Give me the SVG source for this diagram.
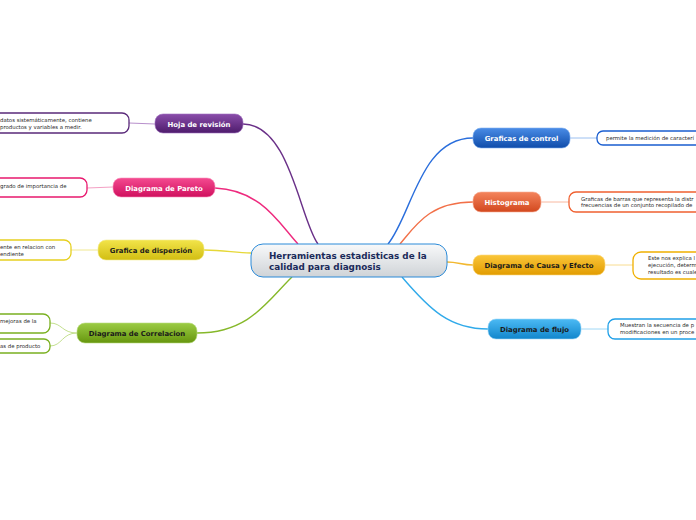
<svg xmlns="http://www.w3.org/2000/svg" width="696" height="520" viewBox="0 0 696 520">
<style>
.t{font-family:"DejaVu Sans",Verdana,sans-serif;font-weight:bold;font-size:6.9px;text-anchor:middle}
.w{fill:#fff}
.d{fill:#1a1a1a}
.leaf{fill:#fff;stroke-width:1.3}
.lt{font-family:"DejaVu Sans",Verdana,sans-serif;font-size:5.4px;fill:#2a2a2a}
.c{fill:none;stroke-width:1.4}
.cl{fill:none;stroke-width:1}
</style>
<defs>
<linearGradient id="gC" x1="0" y1="0" x2="0" y2="1"><stop offset="0" stop-color="#f8f9fa"/><stop offset="1" stop-color="#cfd3d7"/></linearGradient>
<linearGradient id="gPu" x1="0" y1="0" x2="0" y2="1"><stop offset="0" stop-color="#8a4daa"/><stop offset="1" stop-color="#4e1c6c"/></linearGradient>
<linearGradient id="gPi" x1="0" y1="0" x2="0" y2="1"><stop offset="0" stop-color="#f44a90"/><stop offset="1" stop-color="#d0105e"/></linearGradient>
<linearGradient id="gY" x1="0" y1="0" x2="0" y2="1"><stop offset="0" stop-color="#f2e44a"/><stop offset="1" stop-color="#d2be12"/></linearGradient>
<linearGradient id="gG" x1="0" y1="0" x2="0" y2="1"><stop offset="0" stop-color="#9ccc44"/><stop offset="1" stop-color="#66960e"/></linearGradient>
<linearGradient id="gB" x1="0" y1="0" x2="0" y2="1"><stop offset="0" stop-color="#4a8ce6"/><stop offset="1" stop-color="#0f4caa"/></linearGradient>
<linearGradient id="gO" x1="0" y1="0" x2="0" y2="1"><stop offset="0" stop-color="#f4845c"/><stop offset="1" stop-color="#d2481e"/></linearGradient>
<linearGradient id="gA" x1="0" y1="0" x2="0" y2="1"><stop offset="0" stop-color="#fac63a"/><stop offset="1" stop-color="#e29c00"/></linearGradient>
<linearGradient id="gL" x1="0" y1="0" x2="0" y2="1"><stop offset="0" stop-color="#4cbaf4"/><stop offset="1" stop-color="#1186cc"/></linearGradient>
</defs>
<rect width="696" height="520" fill="#fff"/>
<g id="connectors">
<path class="c" stroke="#6a3088" d="M243,124 C290,124 300,220 318,244"/>
<path class="c" stroke="#ee2a7e" d="M215,188 C262,190 280,225 298,244"/>
<path class="c" stroke="#e6d838" d="M204,250 C225,250 235,253 251,253"/>
<path class="c" stroke="#86b82a" d="M197,333 C250,333 268,300 292,277"/>
<path class="c" stroke="#2a6edc" d="M473,138 C420,138 412,215 388,244"/>
<path class="c" stroke="#f27048" d="M473,202 C430,202 416,225 400,244"/>
<path class="c" stroke="#f2b830" d="M447,262 C458,262 462,265 473,265"/>
<path class="c" stroke="#30aaea" d="M402,277 C430,310 450,329 488,329"/>
<path class="cl" stroke="#b890cc" d="M129,123 L155,124"/>
<path class="cl" stroke="#f4a0c4" d="M87,188 L113,187"/>
<path class="cl" stroke="#f0e890" d="M71,250 L98,250"/>
<path class="cl" stroke="#c4e090" d="M77,333 C62,333 62,323 50,323"/>
<path class="cl" stroke="#c4e090" d="M77,333 C62,333 62,346 50,346"/>
<path class="cl" stroke="#9cc0f0" d="M570,138 L597,138"/>
<path class="cl" stroke="#f8b8a0" d="M541,202 L569,202"/>
<path class="cl" stroke="#f8dc90" d="M605,265 L633,265"/>
<path class="cl" stroke="#a0d8f6" d="M581,329 L608,329"/>
</g>
<g id="central">
<rect x="251" y="244" width="196" height="33" rx="12" fill="url(#gC)" stroke="#2a8ad8" stroke-width="1"/>
<text x="269" y="259" font-family="DejaVu Sans,Verdana,sans-serif" font-weight="bold" font-size="8.8" fill="#1a2a5a">Herramientas estadisticas de la</text>
<text x="269" y="270" font-family="DejaVu Sans,Verdana,sans-serif" font-weight="bold" font-size="8.8" fill="#1a2a5a">calidad para diagnosis</text>
</g>
<g id="hoja">
<rect x="155" y="114" width="88" height="19" rx="8" fill="url(#gPu)" stroke="#a070c0" stroke-width="0.6"/>
<text class="t w" x="199" y="126.5">Hoja de revisión</text>
</g>
<g id="hoja-leaf">
<rect class="leaf" x="-12" y="113" width="141" height="20" rx="7" stroke="#5a2a7a"/>
<text class="lt" x="0" y="122">datos sistemáticamente, contiene</text>
<text class="lt" x="0" y="129">productos y variables a medir.</text>
</g>
<g id="pareto">
<rect x="113" y="178" width="102" height="19" rx="8" fill="url(#gPi)" stroke="#f890bc" stroke-width="0.6"/>
<text class="t w" x="164" y="190.5">Diagrama de Pareto</text>
</g>
<g id="pareto-leaf">
<rect class="leaf" x="-12" y="178" width="99" height="19" rx="7" stroke="#e8186e"/>
<text class="lt" x="0" y="188">grado de importancia de</text>
</g>
<g id="dispersion">
<rect x="98" y="240" width="106" height="20" rx="8" fill="url(#gY)" stroke="#f4ec90" stroke-width="0.6"/>
<text class="t d" x="151" y="252.5">Grafica de dispersión</text>
</g>
<g id="dispersion-leaf">
<rect class="leaf" x="-12" y="240" width="83" height="20" rx="7" stroke="#e6d020"/>
<text class="lt" x="0" y="248.5">ente en relacion con</text>
<text class="lt" x="0" y="256">endiente</text>
</g>
<g id="correlacion">
<rect x="77" y="323" width="120" height="20" rx="8" fill="url(#gG)" stroke="#b8dc80" stroke-width="0.6"/>
<text class="t d" x="137" y="335.5">Diagrama de Correlacion</text>
</g>
<g id="correlacion-leaf1">
<rect class="leaf" x="-12" y="314" width="62" height="19" rx="7" stroke="#7ab020"/>
<text class="lt" x="0" y="322.5">mejoras de la</text>
</g>
<g id="correlacion-leaf2">
<rect class="leaf" x="-12" y="339" width="62" height="14" rx="6" stroke="#7ab020"/>
<text class="lt" x="0" y="348">as de producto</text>
</g>
<g id="control">
<rect x="473" y="128" width="97" height="20" rx="8" fill="url(#gB)" stroke="#80b0f0" stroke-width="0.6"/>
<text class="t w" x="521.5" y="140.5">Graficas de control</text>
</g>
<g id="control-leaf">
<rect class="leaf" x="597" y="131" width="115" height="14" rx="6" stroke="#1a5ed0"/>
<text class="lt" x="606" y="140">permite la medición de caracterí</text>
</g>
<g id="histograma">
<rect x="473" y="192" width="68" height="20" rx="8" fill="url(#gO)" stroke="#f8b098" stroke-width="0.6"/>
<text class="t w" x="507" y="204.5">Histograma</text>
</g>
<g id="histograma-leaf">
<rect class="leaf" x="569" y="192" width="143" height="20" rx="7" stroke="#f06030"/>
<text class="lt" x="581" y="200.5">Graficas de barras que representa la distr</text>
<text class="lt" x="581" y="207">frecuencias de un conjunto recopilado de</text>
</g>
<g id="causa">
<rect x="473" y="255" width="132" height="20" rx="8" fill="url(#gA)" stroke="#fcd880" stroke-width="0.6"/>
<text class="t d" x="539" y="267.5">Diagrama de Causa y Efecto</text>
</g>
<g id="causa-leaf">
<rect class="leaf" x="633" y="252" width="79" height="27" rx="8" stroke="#f0b000"/>
<text class="lt" x="648" y="260">Este nos explica l</text>
<text class="lt" x="648" y="267">ejecución, determ</text>
<text class="lt" x="648" y="274">resultado es cuale</text>
</g>
<g id="flujo">
<rect x="488" y="319" width="93" height="20" rx="8" fill="url(#gL)" stroke="#a0d8f8" stroke-width="0.6"/>
<text class="t d" x="534.5" y="331.5">Diagrama de flujo</text>
</g>
<g id="flujo-leaf">
<rect class="leaf" x="608" y="319" width="104" height="20" rx="7" stroke="#20a0e8"/>
<text class="lt" x="620" y="327">Muestran la secuencia de p</text>
<text class="lt" x="620" y="334">modificaciones en un proce</text>
</g>
</svg>
